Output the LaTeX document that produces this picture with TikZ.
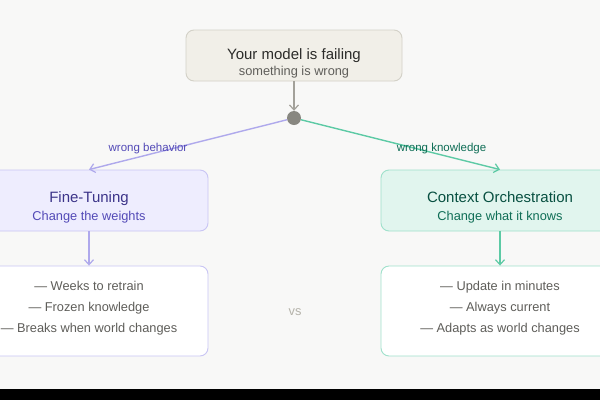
\documentclass[tikz,border=0pt]{standalone}
\usepackage{fontspec}
\setmainfont{Liberation Sans}
\usetikzlibrary{arrows.meta}
\definecolor{bg}{HTML}{F8F8F7}
\definecolor{grayfill}{HTML}{F1EFE8}
\definecolor{graystroke}{HTML}{D3D1C7}
\definecolor{grayline}{HTML}{A3A19A}
\definecolor{graydot}{HTML}{888780}
\definecolor{graydark}{HTML}{2C2C2A}
\definecolor{graymid}{HTML}{5F5E5A}
\definecolor{graylight}{HTML}{B4B2A9}
\definecolor{purfill}{HTML}{EEEDFE}
\definecolor{purstroke}{HTML}{C9C5F4}
\definecolor{purline}{HTML}{AFA9EC}
\definecolor{purdark}{HTML}{3C3489}
\definecolor{purmid}{HTML}{534AB7}
\definecolor{tealfill}{HTML}{E1F5EE}
\definecolor{tealstroke}{HTML}{9FE1CB}
\definecolor{tealline}{HTML}{5DCAA5}
\definecolor{tealdark}{HTML}{085041}
\definecolor{tealmid}{HTML}{0F6E56}
\tikzset{
  box/.style={draw, rounded corners=8pt, line width=0.9pt, inner sep=0pt},
  txt/.style={anchor=base, inner sep=0pt},
  ttl/.style={txt, font=\fontsize{15}{18}\selectfont},
  sub/.style={txt, font=\fontsize{12.8}{15}\selectfont},
  body/.style={txt, font=\fontsize{12.8}{15}\selectfont, text=graymid},
  lbl/.style={txt, font=\fontsize{11.5}{14}\selectfont},
  arr/.style={line width=1.4pt, -{Straight Barb[length=5pt,width=9pt,line width=1.2pt]}},
}
\begin{document}
\begin{tikzpicture}[x=1pt,y=-1pt]
\useasboundingbox (0,0) rectangle (600,400);
\fill[bg] (0,0) rectangle (600,400);
\fill[black] (0,389) rectangle (600,400);

% top
\node[box, fill=grayfill, draw=graystroke, minimum width=216pt, minimum height=51pt] (top) at (294,55.5) {};
\node[ttl, text=graydark] (topt) at (294,59) {Your model is failing};
\node[sub, text=graymid] (tops) at (294,75) {something is wrong};
\node[circle, fill=graydot, inner sep=0pt, minimum size=14pt] (dot) at (294,118) {};
\draw[arr, grayline] (top.south) -- (dot.north);

% left
\node[box, fill=purfill, draw=purstroke, minimum width=238pt, minimum height=61pt] (ft) at (89,200.5) {};
\node[ttl, text=purdark] (ftt) at (89,202.3) {Fine-Tuning};
\node[sub, text=purmid] (fts) at (89,220) {Change the weights};
\node[box, fill=white, draw=purstroke, minimum width=238pt, minimum height=90pt] (ftb) at (89,311) {};
\node[body] (ft1) at (89,290) {— Weeks to retrain};
\node[body] (ft2) at (89,311.7) {— Frozen knowledge};
\node[body] (ft3) at (89,332.7) {— Breaks when world changes};

% right
\node[box, fill=tealfill, draw=tealstroke, minimum width=238pt, minimum height=61pt] (co) at (500,200.5) {};
\node[ttl, text=tealdark] (cot) at (500,202.3) {Context Orchestration};
\node[sub, text=tealmid] (cos) at (500,220) {Change what it knows};
\node[box, fill=white, draw=tealstroke, minimum width=238pt, minimum height=90pt] (cob) at (500,311) {};
\node[body] (co1) at (500,290) {— Update in minutes};
\node[body] (co2) at (500,311.7) {— Always current};
\node[body] (co3) at (500,332.7) {— Adapts as world changes};

% connectors
\draw[arr, purline] (dot) -- (ft.north);
\draw[arr, tealline] (dot) -- (co.north);
\draw[arr, purline] (ft.south) -- (ftb.north);
\draw[arr, tealline] (co.south) -- (cob.north);

\node[lbl, text=purmid] (lb1) at (148,151) {wrong behavior};
\node[lbl, text=tealmid] (lb2) at (441.5,151) {wrong knowledge};

\node[sub, text=graylight] (vs) at (295,315) {vs};
\end{tikzpicture}
\end{document}
